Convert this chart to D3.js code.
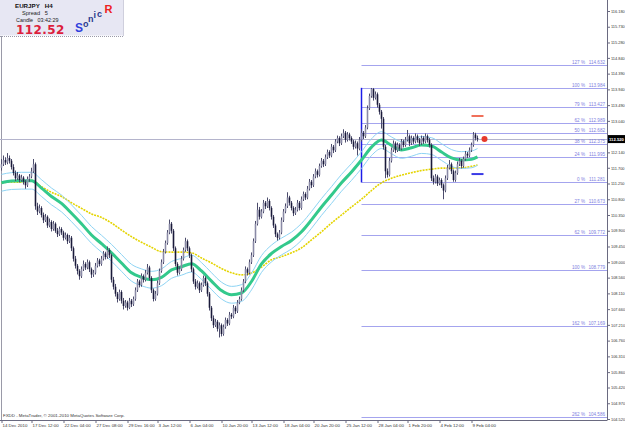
<!DOCTYPE html>
<html>
<head>
<meta charset="utf-8">
<script src="https://cdn.jsdelivr.net/npm/d3@7"></script>
<style>
html, body { margin: 0; padding: 0; background: #fff; overflow: hidden; }
svg { display: block; font-family: "Liberation Sans", Arial, sans-serif; }
</style>
</head>
<body>
<div id="chart"></div>
<script>
// EURJPY H4 candles (one value per bar)
const opens = [
 111.70,111.80,111.92,111.85,111.98,111.90,111.72,111.55,111.40,111.48,
 111.35,111.42,111.30,111.20,111.38,111.45,111.60,111.80,110.60,110.45,
 110.55,110.35,110.20,110.30,110.05,110.15,109.95,110.10,109.90,109.80,
 109.95,109.85,109.70,109.78,109.60,109.70,109.40,109.10,108.90,108.75,
 108.60,108.80,108.95,108.85,109.00,108.80,108.65,108.70,108.90,109.05,
 108.95,109.10,109.25,109.15,109.35,109.20,108.50,108.30,108.10,107.95,
 108.15,107.90,107.75,107.85,107.70,107.90,107.80,107.95,108.20,108.45,
 108.35,108.60,108.50,108.70,108.85,108.55,108.20,107.95,108.10,108.40,
 108.75,109.00,109.30,109.55,109.85,110.10,109.90,109.40,108.95,108.70,
 108.80,109.10,109.35,109.60,109.40,109.20,108.80,108.45,108.30,108.40,
 108.20,108.35,108.55,108.40,108.10,107.70,107.40,107.20,107.30,107.10,
 107.20,106.95,107.15,107.35,107.25,107.50,107.45,107.70,107.60,107.85,
 107.95,108.20,108.45,108.80,108.70,109.00,109.20,109.60,110.10,110.50,
 110.30,110.45,110.70,110.60,110.75,110.55,110.30,110.05,109.80,109.70,
 109.85,110.20,110.45,110.60,110.85,110.70,110.55,110.40,110.50,110.70,
 110.55,110.80,110.95,110.85,111.10,111.30,111.20,111.45,111.60,111.50,
 111.75,111.90,111.80,112.00,112.15,112.05,112.30,112.20,112.45,112.55,
 112.40,112.60,112.70,112.50,112.65,112.55,112.45,112.30,112.40,112.25,
 112.50,112.70,112.60,112.85,113.40,113.75,113.95,113.70,113.80,113.50,
 113.30,113.10,112.30,111.60,111.50,111.90,112.20,112.40,112.20,112.35,
 112.25,112.45,112.35,112.50,112.60,112.40,112.55,112.45,112.60,112.50,
 112.40,112.55,112.45,112.60,112.50,112.35,111.40,111.30,111.45,111.25,
 111.35,111.20,111.05,111.40,111.70,111.80,111.60,111.35,111.55,111.80,
 111.90,111.75,111.95,112.10,112.05,112.20,112.35,112.65,112.55
];
const highs = [
 111.95,112.05,112.00,112.12,112.05,111.95,111.80,111.62,111.58,111.52,
 111.50,111.46,111.35,111.45,111.52,111.70,111.95,111.85,110.70,110.65,
 110.60,110.42,110.38,110.34,110.25,110.20,110.18,110.14,109.98,110.02,
 110.00,109.90,109.85,109.82,109.78,109.75,109.45,109.18,108.95,108.80,
 108.88,109.05,109.00,109.08,109.05,108.85,108.78,108.98,109.12,109.10,
 109.18,109.32,109.30,109.45,109.40,109.25,108.58,108.38,108.15,108.22,
 108.20,107.98,107.92,107.90,107.98,107.95,108.02,108.28,108.52,108.50,
 108.68,108.65,108.78,108.95,108.90,108.60,108.25,108.18,108.48,108.82,
 109.08,109.38,109.62,109.92,110.22,110.15,109.95,109.45,109.00,108.88,
 109.18,109.42,109.70,109.65,109.45,109.25,108.85,108.52,108.48,108.45,
 108.42,108.62,108.60,108.45,108.15,107.75,107.48,107.38,107.35,107.28,
 107.25,107.22,107.42,107.40,107.58,107.55,107.78,107.75,107.92,108.02,
 108.28,108.52,108.88,108.85,109.08,109.28,109.68,110.18,110.70,110.58,
 110.52,110.78,110.75,110.85,110.80,110.60,110.35,110.10,109.85,109.92,
 110.28,110.52,110.68,111.00,110.90,110.75,110.60,110.58,110.78,110.75,
 110.88,111.02,111.00,111.18,111.38,111.35,111.52,111.68,111.65,111.82,
 111.98,111.95,112.08,112.22,112.20,112.38,112.35,112.52,112.62,112.60,
 112.68,112.80,112.75,112.72,112.70,112.60,112.50,112.48,112.45,112.58,
 112.80,112.75,112.92,113.48,113.82,113.98,113.98,113.88,113.85,113.55,
 113.35,113.15,112.35,111.68,111.98,112.28,112.48,112.45,112.42,112.40,
 112.52,112.50,112.58,112.78,112.65,112.62,112.60,112.68,112.65,112.55,
 112.62,112.60,112.68,112.65,112.55,112.40,111.48,111.52,111.50,111.42,
 111.40,111.25,111.48,111.78,111.92,111.85,111.65,111.62,111.88,111.98,
 111.95,112.02,112.18,112.15,112.28,112.42,112.72,112.70,112.62
];
const lows = [
 111.62,111.75,111.78,111.80,111.82,111.65,111.48,111.32,111.35,111.28,
 111.30,111.22,111.10,111.15,111.30,111.40,111.55,110.50,110.35,110.40,
 110.28,110.12,110.15,109.98,110.00,109.88,109.90,109.84,109.72,109.75,
 109.78,109.62,109.65,109.52,109.55,109.32,109.02,108.82,108.65,108.50,
 108.55,108.75,108.78,108.80,108.72,108.55,108.58,108.65,108.85,108.88,
 108.90,109.05,109.08,109.10,109.12,108.42,108.22,108.02,107.85,107.90,
 107.82,107.65,107.70,107.62,107.66,107.72,107.75,107.90,108.15,108.28,
 108.30,108.42,108.45,108.65,108.48,108.12,107.88,107.90,108.05,108.35,
 108.70,108.95,109.25,109.50,109.80,109.82,109.32,108.88,108.62,108.65,
 108.75,109.05,109.30,109.32,109.12,108.72,108.38,108.22,108.25,108.12,
 108.15,108.30,108.32,108.02,107.62,107.32,107.12,107.15,107.02,106.85,
 106.88,106.90,107.10,107.18,107.20,107.38,107.40,107.52,107.55,107.80,
 107.90,108.15,108.40,108.62,108.65,108.95,109.15,109.55,110.05,110.22,
 110.25,110.40,110.52,110.55,110.48,110.22,109.98,109.72,109.62,109.65,
 109.80,110.15,110.40,110.55,110.62,110.48,110.32,110.35,110.45,110.48,
 110.50,110.75,110.78,110.80,111.05,111.12,111.15,111.40,111.42,111.45,
 111.70,111.72,111.75,111.95,111.98,112.00,112.12,112.15,112.40,112.32,
 112.35,112.55,112.42,112.45,112.48,112.38,112.22,112.25,112.05,112.20,
 112.45,112.52,112.55,112.80,113.35,113.70,113.62,113.65,113.42,113.22,
 112.82,112.22,111.40,111.42,111.45,111.85,112.15,112.12,112.15,112.18,
 112.20,112.28,112.30,112.45,112.32,112.35,112.38,112.40,112.42,112.32,
 112.35,112.38,112.40,112.42,112.28,111.32,111.22,111.25,111.18,111.20,
 111.12,110.80,111.00,111.35,111.65,111.52,111.30,111.30,111.50,111.75,
 111.68,111.70,111.90,111.98,112.00,112.15,112.30,112.48,112.45
];
const closes = [
 111.80,111.92,111.85,111.98,111.90,111.72,111.55,111.40,111.48,111.35,
 111.42,111.30,111.20,111.38,111.45,111.60,111.80,110.60,110.45,110.55,
 110.35,110.20,110.30,110.05,110.15,109.95,110.10,109.90,109.80,109.95,
 109.85,109.70,109.78,109.60,109.70,109.40,109.10,108.90,108.75,108.60,
 108.80,108.95,108.85,109.00,108.80,108.65,108.70,108.90,109.05,108.95,
 109.10,109.25,109.15,109.35,109.20,108.50,108.30,108.10,107.95,108.15,
 107.90,107.75,107.85,107.70,107.90,107.80,107.95,108.20,108.45,108.35,
 108.60,108.50,108.70,108.85,108.55,108.20,107.95,108.10,108.40,108.75,
 109.00,109.30,109.55,109.85,110.10,109.90,109.40,108.95,108.70,108.80,
 109.10,109.35,109.60,109.40,109.20,108.80,108.45,108.30,108.40,108.20,
 108.35,108.55,108.40,108.10,107.70,107.40,107.20,107.30,107.10,107.20,
 106.95,107.15,107.35,107.25,107.50,107.45,107.70,107.60,107.85,107.95,
 108.20,108.45,108.80,108.70,109.00,109.20,109.60,110.10,110.50,110.30,
 110.45,110.70,110.60,110.75,110.55,110.30,110.05,109.80,109.70,109.85,
 110.20,110.45,110.60,110.85,110.70,110.55,110.40,110.50,110.70,110.55,
 110.80,110.95,110.85,111.10,111.30,111.20,111.45,111.60,111.50,111.75,
 111.90,111.80,112.00,112.15,112.05,112.30,112.20,112.45,112.55,112.40,
 112.60,112.70,112.50,112.65,112.55,112.45,112.30,112.40,112.25,112.50,
 112.70,112.60,112.85,113.40,113.75,113.95,113.70,113.80,113.50,113.30,
 113.10,112.30,111.60,111.50,111.90,112.20,112.40,112.20,112.35,112.25,
 112.45,112.35,112.50,112.60,112.40,112.55,112.45,112.60,112.50,112.40,
 112.55,112.45,112.60,112.50,112.35,111.40,111.30,111.45,111.25,111.35,
 111.20,111.05,111.40,111.70,111.80,111.60,111.35,111.55,111.80,111.90,
 111.75,111.95,112.10,112.05,112.20,112.35,112.65,112.55,112.52
];

// indicator lines, sampled every few bars
const maBars = [0,5,10,15,20,25,30,35,40,45,50,55,60,65,70,75,80,85,90,95,100,105,110,115,120,
  125,130,135,140,145,150,155,160,165,170,175,180,185,190,195,200,205,210,215,220,225,230,235,238];
const greenMA = [111.27,111.32,111.33,111.33,111.12,110.88,110.68,110.40,110.10,109.78,109.53,109.27,108.98,
  108.70,108.57,108.50,108.57,108.78,108.87,108.96,108.75,108.46,108.19,108.07,108.12,108.45,108.95,109.25,
  109.45,109.62,109.87,110.21,110.58,110.92,111.27,111.58,111.92,112.29,112.49,112.34,112.21,112.27,112.35,
  112.32,112.15,111.98,111.92,111.94,112.01];
const upperBand = [111.51,111.56,111.57,111.57,111.36,111.12,110.92,110.64,110.34,110.02,109.77,109.51,109.22,
  108.94,108.81,108.74,108.81,109.02,109.11,109.20,108.99,108.70,108.43,108.31,108.36,108.69,109.19,109.49,
  109.69,109.86,110.11,110.45,110.82,111.16,111.51,111.82,112.16,112.53,112.73,112.58,112.45,112.51,112.59,
  112.56,112.39,112.22,112.16,112.18,112.25];
const lowerBand = [111.03,111.08,111.09,111.09,110.88,110.64,110.44,110.16,109.86,109.54,109.29,109.03,108.74,
  108.46,108.33,108.26,108.33,108.54,108.63,108.72,108.51,108.22,107.95,107.83,107.88,108.21,108.71,109.01,
  109.21,109.38,109.63,109.97,110.34,110.68,111.03,111.34,111.68,112.05,112.25,112.10,111.97,112.03,112.11,
  112.08,111.91,111.74,111.68,111.70,111.77];
const yellowMA = [111.27,111.29,111.29,111.34,111.16,111.00,110.88,110.70,110.54,110.38,110.28,110.12,109.92,
  109.73,109.57,109.43,109.30,109.29,109.29,109.27,109.12,108.98,108.82,108.70,108.64,108.69,108.86,109.07,
  109.16,109.27,109.41,109.64,109.87,110.12,110.35,110.58,110.80,111.05,111.27,111.40,111.49,111.56,111.62,
  111.66,111.69,111.69,111.70,111.74,111.78];

// fibonacci levels
const fibStartBar = 180;
const fibPct = ["127 %","100 %","79 %","62 %","50 %","38 %","24 %","0 %","27 %","62 %","100 %","162 %","262 %"];
const fibVal = [114.632,113.984,113.427,112.989,112.682,112.375,111.995,111.281,110.673,109.772,108.779,107.169,104.586];

// axes (112.590 sits under the price tag and is not shown)
const priceTicks = [116.18,115.73,115.28,114.84,114.39,113.94,113.49,113.04,112.14,111.70,111.25,110.80,
  110.35,109.90,109.45,109.00,108.56,108.11,107.66,107.21,106.76,106.31,105.86,105.42,104.97,104.52];
const timeBars = [0,15,31,47,63,78,94,110,125,141,156,172,188,203,219,235];
const timeLabels = ["14 Dec 2010","17 Dec 12:00","22 Dec 04:00","27 Dec 08:00","29 Dec 16:00","3 Jan 12:00",
  "6 Jan 04:00","10 Jan 20:00","13 Jan 12:00","18 Jan 04:00","20 Jan 20:00","25 Jan 12:00","28 Jan 04:00",
  "1 Feb 20:00","4 Feb 12:00","9 Feb 04:00"];

const lastPrice = 112.52;
// Sonic R signal marks: [bar from, bar to, price]
const dashMarks = [[235, 241, 113.18, "#f0705a"], [235, 241, 111.52, "#3a3ae6"]];
const dotMark = [241.5, 112.52];

const W = 625, H = 429;
const plotRight = 607, plotBottom = 420.5;

const svg = d3.select("#chart").append("svg").attr("width", W).attr("height", H);

const x = d3.scaleLinear().domain([0, 238]).range([1.5, 477.5]);
const y = d3.scaleLinear().domain([104.52, 116.18]).range([419, 11]);

// frame
svg.append("line").attr("x1", 1.5).attr("x2", 1.5).attr("y1", 36).attr("y2", plotBottom)
  .attr("stroke", "#9a9aa8");

// current price line
svg.append("line").attr("x1", 0).attr("x2", plotRight).attr("y1", Math.round(y(lastPrice)) + 0.5)
  .attr("y2", Math.round(y(lastPrice)) + 0.5).attr("stroke", "#b4b4cc");

// fib levels
const fib = svg.append("g");
fib.selectAll("line.lvl").data(fibVal).enter().append("line").attr("class", "lvl")
  .attr("x1", x(fibStartBar)).attr("x2", plotRight)
  .attr("y1", d => Math.round(y(d)) + 0.5).attr("y2", d => Math.round(y(d)) + 0.5)
  .attr("stroke", "#a4a4ee");
fib.selectAll("text.val").data(fibVal).enter().append("text").attr("class", "val")
  .attr("x", 605).attr("y", d => Math.round(y(d)) - 0.8)
  .attr("text-anchor", "end").attr("font-size", 4.6).attr("fill", "#7e7ee0")
  .text(d => d.toFixed(3));
fib.selectAll("text.pct").data(fibPct).enter().append("text").attr("class", "pct")
  .attr("x", 585).attr("y", (d, i) => Math.round(y(fibVal[i])) - 0.8)
  .attr("text-anchor", "end").attr("font-size", 4.6).attr("fill", "#7e7ee0")
  .text(d => d);
fib.append("line").attr("x1", x(fibStartBar)).attr("x2", x(fibStartBar))
  .attr("y1", y(fibVal[1])).attr("y2", y(fibVal[7]))
  .attr("stroke", "#1c1ce8").attr("stroke-width", 1.5);

// indicator lines
const maLine = vals => d3.line().x((d, i) => x(maBars[i])).y(d => y(d)).curve(d3.curveMonotoneX)(vals);

svg.append("path").attr("d", maLine(yellowMA)).attr("fill", "none")
  .attr("stroke", "#e4d400").attr("stroke-width", 1.6).attr("stroke-dasharray", "2,1");
svg.append("path").attr("d", maLine(upperBand)).attr("fill", "none")
  .attr("stroke", "#8ed4f4").attr("stroke-width", 1);
svg.append("path").attr("d", maLine(lowerBand)).attr("fill", "none")
  .attr("stroke", "#8ed4f4").attr("stroke-width", 1);
svg.append("path").attr("d", maLine(greenMA)).attr("fill", "none")
  .attr("stroke", "#33c98c").attr("stroke-width", 3);

// candles
const bars = d3.range(closes.length);
const cg = svg.append("g");
cg.selectAll("line").data(bars).enter().append("line")
  .attr("x1", i => x(i)).attr("x2", i => x(i))
  .attr("y1", i => y(highs[i])).attr("y2", i => y(lows[i]))
  .attr("stroke", "#4c4c6c").attr("stroke-width", 1);
cg.selectAll("rect").data(bars).enter().append("rect")
  .attr("x", i => x(i) - 0.8).attr("width", 1.6)
  .attr("y", i => y(Math.max(opens[i], closes[i])))
  .attr("height", i => Math.max(1, Math.abs(y(opens[i]) - y(closes[i]))))
  .attr("fill", i => closes[i] < opens[i] ? "#1a1a3a" : "#8a8aa6");

// signal marks
svg.selectAll("line.mark").data(dashMarks).enter().append("line").attr("class", "mark")
  .attr("x1", d => x(d[0])).attr("x2", d => x(d[1]))
  .attr("y1", d => y(d[2])).attr("y2", d => y(d[2]))
  .attr("stroke", d => d[3]).attr("stroke-width", 2);
svg.append("circle").attr("cx", x(dotMark[0])).attr("cy", y(dotMark[1])).attr("r", 3)
  .attr("fill", "#e63a2c");

// right price axis
const yAxis = svg.append("g").attr("transform", `translate(${plotRight + 0.5},0)`)
  .call(d3.axisRight(y).tickValues(priceTicks).tickSize(2.5).tickPadding(1).tickFormat(d3.format(".3f")));
yAxis.select(".domain").attr("d", `M0,0V${plotBottom}`).attr("stroke", "#6a6a80");
yAxis.selectAll(".tick line").attr("stroke", "#6a6a80");
yAxis.selectAll("text").attr("font-size", 3.9).attr("fill", "#333").attr("font-family", "Liberation Sans, Arial");

// current price tag
svg.append("rect").attr("x", 608).attr("y", y(lastPrice) - 4).attr("width", 17).attr("height", 8).attr("fill", "#000");
svg.append("text").attr("x", 609).attr("y", y(lastPrice) + 1.5).attr("font-size", 4.2)
  .attr("font-weight", "bold").attr("fill", "#fff").text(lastPrice.toFixed(3));

// bottom time axis
const xAxis = svg.append("g").attr("transform", `translate(0,${plotBottom})`)
  .call(d3.axisBottom(x).tickValues(timeBars).tickSize(2.5).tickPadding(1).tickFormat((d, i) => timeLabels[i]));
xAxis.select(".domain").attr("d", `M0,0H${plotRight}`).attr("stroke", "#6a6a80");
xAxis.selectAll(".tick line").attr("stroke", "#6a6a80");
xAxis.selectAll("text").attr("text-anchor", "start").attr("dx", 0.5).attr("font-size", 4.4)
  .attr("fill", "#333").attr("font-family", "Liberation Sans, Arial");

svg.append("text").attr("x", 3).attr("y", 416.5).attr("font-size", 4.4).attr("fill", "#333")
  .text("FXDD - MetaTrader, \u00a9 2001-2010 MetaQuotes Software Corp.");

// info box top left
const box = svg.append("g");
box.append("rect").attr("x", 0).attr("y", 0).attr("width", 123).attr("height", 35.5).attr("fill", "#e7e7f3");
box.append("line").attr("x1", 123.5).attr("x2", 123.5).attr("y1", 0).attr("y2", 36).attr("stroke", "#cfcfdd");
box.append("line").attr("x1", 0).attr("x2", 124).attr("y1", 36.5).attr("y2", 36.5)
  .attr("stroke", "#9a9aa8").attr("stroke-dasharray", "1,1");
box.append("text").attr("x", 15).attr("y", 8.3).attr("font-size", 6.2).attr("font-weight", "bold")
  .attr("fill", "#111").attr("xml:space", "preserve").text("EURJPY   H4");
box.append("text").attr("x", 22).attr("y", 15).attr("font-size", 5.6).attr("fill", "#222")
  .attr("xml:space", "preserve").text("Spread   5");
box.append("text").attr("x", 16).attr("y", 21.6).attr("font-size", 5.4).attr("fill", "#222")
  .attr("xml:space", "preserve").text("Candle   03:42:29");
box.append("text").attr("x", 16).attr("y", 34).attr("font-size", 12).attr("font-weight", "bold")
  .attr("font-family", "DejaVu Sans").attr("letter-spacing", 0.4).attr("fill", "#dc1e3c").text("112.52");

const sonic = [["S", 75, 32, 12, "#2f3fdc"], ["o", 83, 26.5, 9, "#2a3a8c"], ["n", 88, 21.5, 9, "#2a3a8c"],
  ["i", 93.5, 17.5, 9, "#2a3a8c"], ["c", 97, 17, 9, "#2a3a8c"], ["R", 104.5, 13, 11, "#ee2020"]];
box.selectAll("text.sonic").data(sonic).enter().append("text").attr("class", "sonic")
  .attr("x", d => d[1]).attr("y", d => d[2]).attr("font-size", d => d[3])
  .attr("font-weight", "bold").attr("fill", d => d[4]).text(d => d[0]);
</script>
</body>
</html>
